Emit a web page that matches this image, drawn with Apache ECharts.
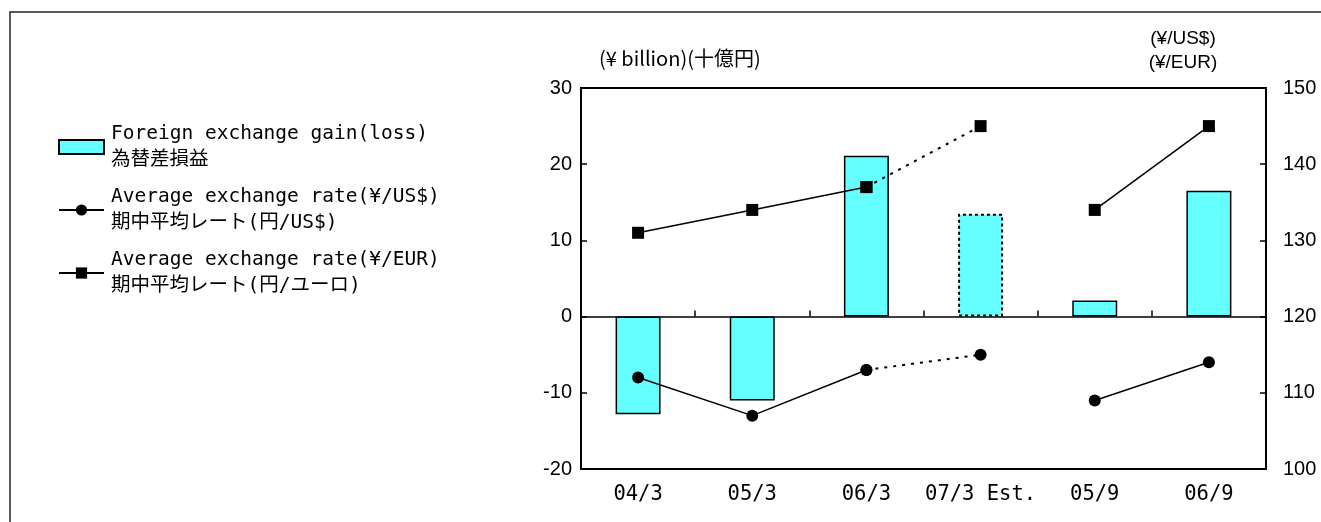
<!DOCTYPE html>
<html>
<head>
<meta charset="utf-8">
<script src="https://cdn.jsdelivr.net/npm/echarts@6/dist/echarts.min.js"></script>
<style>
  html, body { margin: 0; padding: 0; background: #fff; }
  #chart { width: 1321px; height: 522px; }
</style>
</head>
<body>
<div id="chart"></div>
<script>
// data
const categories = ['04/3', '05/3', '06/3', '07/3 Est.', '05/9', '06/9']
const fxGain = [-12.8, -11.0, 21.1, 13.5, 2.1, 16.5] // ¥ billion
const usdRate = [112, 107, 113, 115, 109, 114]
const eurRate = [131, 134, 137, 145, 134, 145]
const estIndex = 3 // 07/3 Est. is a forecast -> dotted
const leftTicks = [-20, 30, 10]   // min, max, interval
const rightTicks = [100, 150, 10]

const monoFont = '"DejaVu Sans Mono", "Noto Sans CJK JP", monospace'
const numFont = '"Liberation Sans Narrow", "Liberation Sans", Arial, sans-serif'

const nameGain = 'Foreign exchange gain(loss)\n為替差損益'
const nameUsd = 'Average exchange rate(¥/US$)\n期中平均レート(円/US$)'
const nameEur = 'Average exchange rate(¥/EUR)\n期中平均レート(円/ユーロ)'

// solid part skips the estimate, dotted part links last actual -> estimate
const solidPart = arr => arr.map((v, i) => (i === estIndex ? null : v))
const dottedPart = arr => arr.map((v, i) => (i === estIndex || i === estIndex - 1 ? v : null))

const chart = echarts.init(document.getElementById('chart'))

const lineBase = {
  type: 'line',
  yAxisIndex: 1,
  connectNulls: false,
  symbolSize: 12,
  itemStyle: { color: '#000' },
  silent: true,
  z: 5,
}

chart.setOption({
  animation: false,
  graphic: [
    {
      type: 'rect',
      shape: { x: 10, y: 12, width: 1330, height: 530 },
      style: { fill: 'none', stroke: '#222', lineWidth: 1.5 },
      silent: true,
    },
  ],
  legend: {
    orient: 'vertical',
    left: 58,
    top: 108,
    padding: 0,
    itemWidth: 45,
    itemHeight: 14,
    itemGap: -15,
    selectedMode: false,
    textStyle: {
      fontFamily: monoFont,
      fontSize: 19.5,
      lineHeight: 26,
      color: '#000',
      padding: [26, 0, 0, 2],
    },
    data: [
      { name: nameGain, icon: 'rect' },
      { name: nameUsd },
      { name: nameEur },
    ],
  },
  grid: {
    left: 581,
    right: 55,
    top: 88,
    bottom: 53,
    outerBoundsMode: 'none',
    containLabel: false,
    show: true,
    borderColor: '#000',
    borderWidth: 2,
    backgroundColor: '#fff',
  },
  xAxis: [
    {
      type: 'category',
      data: categories,
      position: 'bottom',
      axisLine: { show: false, onZero: false },
      axisTick: { show: false },
      axisLabel: {
        interval: 0,
        color: '#000',
        fontFamily: monoFont,
        fontSize: 20.5,
        margin: 15,
      },
    },
    {
      type: 'category',
      data: categories,
      position: 'top',
      axisLine: { show: true, onZero: true, onZeroAxisIndex: 0, lineStyle: { color: '#000', width: 1.5 } },
      axisTick: { show: true, interval: 0, inside: false, length: 6, lineStyle: { color: '#000', width: 1.5 } },
      axisLabel: { show: false },
    },
  ],
  yAxis: [
    {
      type: 'value',
      position: 'left',
      name: '(¥ billion)(十億円)',
      nameLocation: 'end',
      nameGap: 20,
      nameTextStyle: {
        color: '#000',
        fontFamily: '"Noto Sans CJK JP", "Liberation Sans", sans-serif',
        fontSize: 20,
        align: 'left',
        padding: [0, 0, 0, 18],
      },
      min: leftTicks[0],
      max: leftTicks[1],
      interval: leftTicks[2],
      axisLine: { show: false },
      axisTick: { show: true, inside: true, length: 6, lineStyle: { color: '#000', width: 1.5 } },
      splitLine: { show: false },
      axisLabel: { color: '#000', fontFamily: numFont, fontSize: 20, margin: 9 },
    },
    {
      type: 'value',
      position: 'right',
      name: '(¥/US$)\n(¥/EUR)',
      nameLocation: 'end',
      nameGap: 13,
      nameTextStyle: {
        color: '#000',
        fontFamily: '"Liberation Sans", sans-serif',
        fontSize: 19,
        lineHeight: 24,
        align: 'center',
        padding: [0, 166, 0, 0],
      },
      min: rightTicks[0],
      max: rightTicks[1],
      interval: rightTicks[2],
      axisLine: { show: false },
      axisTick: { show: true, inside: true, length: 6, lineStyle: { color: '#000', width: 1.5 } },
      splitLine: { show: false },
      axisLabel: { color: '#000', fontFamily: numFont, fontSize: 20, margin: 17 },
    },
  ],
  series: [
    {
      name: nameGain,
      type: 'bar',
      barWidth: 45,
      itemStyle: { color: '#66FFFF', borderColor: '#000', borderWidth: 1.5 },
      data: fxGain.map((v, i) =>
        i === estIndex
          ? { value: v, itemStyle: { borderType: [3, 3], borderWidth: 2 } }
          : v
      ),
      silent: true,
    },
    {
      ...lineBase,
      name: nameUsd,
      symbol: 'circle',
      lineStyle: { color: '#000', width: 1.5 },
      data: solidPart(usdRate),
    },
    {
      ...lineBase,
      name: nameUsd,
      symbol: 'circle',
      lineStyle: { color: '#000', width: 2, type: [3, 6] },
      data: dottedPart(usdRate),
    },
    {
      ...lineBase,
      name: nameEur,
      symbol: 'rect',
      lineStyle: { color: '#000', width: 1.5 },
      data: solidPart(eurRate),
    },
    {
      ...lineBase,
      name: nameEur,
      symbol: 'rect',
      lineStyle: { color: '#000', width: 2, type: [3, 6] },
      data: dottedPart(eurRate),
    },
  ],
})
</script>
</body>
</html>
